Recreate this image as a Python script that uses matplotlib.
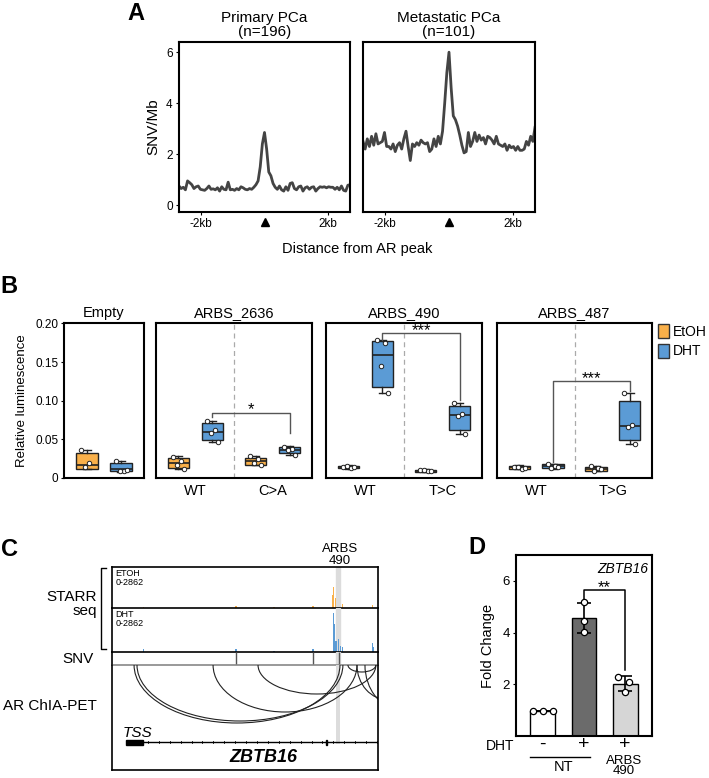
import numpy as np
import matplotlib
matplotlib.use('Agg')
import matplotlib.pyplot as plt
from matplotlib.patches import Arc, Rectangle, Patch

plt.rcParams['font.family'] = ['Liberation Sans', 'DejaVu Sans']

W, H = 709, 778

# ---------- data ----------
# A: SNV density around AR peaks (kb from peak)
a_kb = np.linspace(-2.7, 2.7, 81)
primary_snv = [0.75,0.65,0.7,0.6,0.95,0.88,0.8,0.65,0.72,0.75,0.62,0.6,0.58,0.65,0.75,0.62,
               0.64,0.6,0.68,0.55,0.72,0.62,0.6,0.9,0.6,0.62,0.58,0.65,0.6,0.72,0.68,
               0.62,0.6,0.65,0.62,0.7,0.8,
               0.95,1.5,2.4,2.85,2.2,1.3,1.15,0.85,
               0.7,0.62,0.75,0.6,0.55,0.72,0.58,0.85,0.88,0.65,0.6,0.72,0.75,0.55,0.68,0.72,
               0.62,0.7,0.72,0.55,0.65,0.72,0.7,0.72,0.68,0.72,0.7,0.7,0.62,0.7,0.6,0.75,
               0.58,0.55,0.78,0.8]
metastatic_snv = [2.5,2.2,2.6,2.3,2.7,2.35,2.8,2.4,2.45,2.5,2.85,2.3,2.3,2.2,2.4,2.1,2.35,
                  2.45,2.2,2.6,2.9,2.3,1.75,2.4,2.3,2.45,2.35,2.55,2.45,2.4,2.45,2.1,2.2,2.6,2.3,
                  2.7,2.4,2.9,4.0,5.2,6.0,4.6,3.5,3.35,3.1,2.75,2.35,2.05,2.1,
                  2.85,2.3,2.5,2.85,2.5,2.75,2.55,2.65,2.4,2.7,2.65,2.55,2.4,2.7,2.4,2.35,2.3,
                  2.4,2.15,2.35,2.25,2.3,2.15,2.3,2.15,2.15,2.2,2.5,2.35,2.7,2.5,3.05]
a_titles = ['Primary PCa\n(n=196)', 'Metastatic PCa\n(n=101)']

# B: luciferase reporter, box stats (q1, median, q3, whisker low, whisker high)
b_titles = ['Empty', 'ARBS_2636', 'ARBS_490', 'ARBS_487']
b_alleles = [[''], ['WT', 'C>A'], ['WT', 'T>C'], ['WT', 'T>G']]
etoh_stats = [
    [(0.0121, 0.0174, 0.0317, 0.0113, 0.036)],
    [(0.0134, 0.0195, 0.026, 0.0113, 0.028), (0.0174, 0.022, 0.0265, 0.0165, 0.0286)],
    [(0.013, 0.0143, 0.016, 0.012, 0.0165), (0.0082, 0.0095, 0.0108, 0.0078, 0.011)],
    [(0.0113, 0.0139, 0.016, 0.011, 0.0162), (0.0091, 0.012, 0.0143, 0.0085, 0.015)],
]
dht_stats = [
    [(0.0091, 0.012, 0.0195, 0.0078, 0.0217)],
    [(0.049, 0.060, 0.0707, 0.046, 0.074), (0.0317, 0.0356, 0.040, 0.0295, 0.041)],
    [(0.1176, 0.159, 0.177, 0.110, 0.178), (0.062, 0.0816, 0.0937, 0.0564, 0.0976)],
    [(0.0125, 0.0152, 0.018, 0.0113, 0.0187), (0.049, 0.0677, 0.099, 0.0434, 0.110)],
]
etoh_pts = [
    [[0.036, 0.020, 0.0143]],
    [[0.027, 0.0217, 0.0165, 0.012], [0.0286, 0.024, 0.0195, 0.0165]],
    [[0.0143, 0.0135, 0.0150, 0.0140], [0.0100, 0.0088, 0.0105, 0.0092]],
    [[0.0139, 0.012, 0.0145, 0.0135], [0.015, 0.013, 0.009, 0.012]],
]
dht_pts = [
    [[0.0217, 0.0087, 0.0095, 0.010]],
    [[0.074, 0.062, 0.0577, 0.046], [0.040, 0.037, 0.036, 0.0295]],
    [[0.178, 0.175, 0.1445, 0.110], [0.0976, 0.083, 0.0807, 0.0564]],
    [[0.0187, 0.016, 0.013, 0.0145], [0.110, 0.069, 0.0655, 0.0434]],
]
# (panel, y top, y left end, y right end, label) WT-DHT vs mutant-DHT
b_sig = [(1, 0.0846, 0.079, 0.058, '*'), (2, 0.187, 0.179, 0.101, '***'), (3, 0.125, 0.021, 0.113, '***')]

# C: genome browser tracks, positions in locus units (0-100)
etoh_pos = [11.7, 46.6, 60.9, 75.6, 82.9, 83.4, 83.9, 86.8, 97.9]
etoh_sig = [70, 140, 70, 160, 900, 1466, 700, 280, 210]
dht_pos = [11.7, 46.6, 60.9, 75.6, 83.2, 83.7, 84.2, 85.3, 85.8, 86.8, 97.8, 98.3]
dht_sig = [200, 200, 60, 200, 2540, 1800, 700, 850, 400, 330, 585, 300]
snv_pos = [46.6, 75.6, 85.3]
arbs490_pos = 85.0
chia_loops = [(8.3, 85.7, 58), (9.4, 86.8, 56), (38.0, 92.1, 47), (54.9, 99.2, 29),
              (88.7, 99.2, 7), (92.1, 115.8, 35), (95.1, 123.0, 45)]

# D: qPCR fold change
d_labels = ['-', '+', '+']
d_points = [[0.96, 0.96, 0.96], [5.19, 4.46, 4.04], [2.28, 2.09, 1.70]]
d_colors = ['white', '#6b6b6b', '#d6d6d6']
d_sig = (5.64, 5.2, 2.55)

orange = '#f9b04a'
blue = '#5b9bd5'


fig = plt.figure(figsize=(W/100, H/100), dpi=100)

def px_axes(x0, y0, x1, y1):
    return fig.add_axes([x0/W, 1-y1/H, (x1-x0)/W, (y1-y0)/H])

# overlay for free text in pixel coordinates
ov = fig.add_axes([0, 0, 1, 1], zorder=10)
ov.set_xlim(0, W)
ov.set_ylim(H, 0)
ov.axis('off')

# ---------- A ----------
for i, (rect, vals) in enumerate(zip([(179, 42, 350, 212), (363, 42, 535, 212)],
                                     [primary_snv, metastatic_snv])):
    ax = px_axes(*rect)
    ax.plot(a_kb, vals, color='#444444', lw=2)
    ax.set_xlim(-2.7, 2.7)
    ax.set_ylim(-0.27, 6.4)
    ax.set_xticks([-2, 2])
    ax.set_xticklabels(['-2kb', '2kb'], fontsize=8.5)
    ax.plot([0], [-0.06], marker='^', color='black', ms=6,
            transform=ax.get_xaxis_transform(), clip_on=False)
    for s in ax.spines.values():
        s.set_linewidth(1.5)
    ax.tick_params(length=2.5, pad=2)
    if i == 0:
        ax.set_yticks([0, 2, 4, 6])
        ax.set_yticklabels(['0', '2', '4', '6'], fontsize=8.5)
        ax.set_ylabel('SNV/Mb', fontsize=11, labelpad=4)
    else:
        ax.set_yticks([])
    ax.set_title(a_titles[i], fontsize=11, pad=4, linespacing=1.0)
ov.text(357, 249, 'Distance from AR peak', fontsize=10.5, ha='center', va='center')

# ---------- B ----------
b_rects = [(64, 323, 144, 478), (156, 323, 312, 478), (326, 323, 482, 478), (497, 323, 652, 478)]
jit = [-0.07, 0.03, -0.02, 0.07]
for p, rect in enumerate(b_rects):
    ax = px_axes(*rect)
    n = len(b_alleles[p])
    ax.set_xlim(0.5 - 0.01, n + 0.5 + 0.01)
    ax.set_ylim(0, 0.2005)
    for k in range(n):
        for stats, pts, off, col in [(etoh_stats[p][k], etoh_pts[p][k], -0.22, orange),
                                     (dht_stats[p][k], dht_pts[p][k], 0.22, blue)]:
            q1, med, q3, lo, hi = stats
            x = k + 1 + off
            ax.bxp([dict(med=med, q1=q1, q3=q3, whislo=lo, whishi=hi, fliers=[])],
                   positions=[x], widths=0.28, patch_artist=True, showfliers=False,
                   boxprops=dict(facecolor=col, edgecolor='#222222', lw=1),
                   medianprops=dict(color='#222222', lw=1.2),
                   whiskerprops=dict(color='#222222', lw=1),
                   capprops=dict(color='#222222', lw=1), capwidths=0.1)
            ax.plot([x + jit[j] for j in range(len(pts))], pts, 'o', ms=3.2,
                    mfc='white', mec='#222222', mew=0.7, zorder=5)
    if n == 2:
        ax.axvline(1.5, color='#aaaaaa', ls=(0, (4, 3)), lw=0.9)
        ax.set_xticks([1, 2])
        ax.set_xticklabels(b_alleles[p], fontsize=10.5)
        ax.tick_params(axis='x', length=0, pad=4)
    else:
        ax.set_xticks([])
    if p == 0:
        ax.set_yticks([0, 0.05, 0.10, 0.15, 0.20])
        ax.set_yticklabels(['0', '0.05', '0.10', '0.15', '0.20'], fontsize=8.5)
        ax.tick_params(axis='y', length=2.5, pad=1.5)
        ax.set_ylabel('Relative luminescence', fontsize=9.5, labelpad=5)
    else:
        ax.set_yticks([])
    for s in ax.spines.values():
        s.set_linewidth(1.5)
    ax.set_title(b_titles[p], fontsize=10.5, pad=4)
    for sp, ytop, yl, yr, lab in b_sig:
        if sp == p:
            ax.plot([1.22, 1.22, 2.22, 2.22], [yl, ytop, ytop, yr], color='#555555', lw=1)
            ax.text(1.72, ytop - 0.0025, lab, ha='center', va='baseline', fontsize=12)
    if p == 3:
        hs = [Patch(facecolor=orange, edgecolor='#333333', lw=1),
              Patch(facecolor=blue, edgecolor='#333333', lw=1)]
        ax.legend(hs, ['EtOH', 'DHT'], loc='upper left', bbox_to_anchor=(1.0, 1.03),
                  frameon=False, handlelength=0.85, handleheight=1.2, handletextpad=0.25,
                  labelspacing=0.35, fontsize=10, borderaxespad=0.2, borderpad=0.2)

# ---------- C ----------
ax_e = px_axes(112, 567, 378, 608)
ax_d = px_axes(112, 608, 378, 652)
ax_s = px_axes(112, 652, 378, 665)
ax_c = px_axes(112, 665, 378, 770)
for ax in [ax_e, ax_d, ax_s, ax_c]:
    ax.set_xlim(0, 100)
    ax.set_xticks([])
    ax.set_yticks([])
    ax.patch.set_alpha(0)
    for s in ax.spines.values():
        s.set_linewidth(1.2)
    if ax is not ax_c:
        ax.axvspan(arbs490_pos - 0.75, arbs490_pos + 0.75, color='#dcdcdc', zorder=0)
ax_e.set_ylim(0, 2862)
ax_d.set_ylim(0, 2862)
ax_e.bar(etoh_pos, etoh_sig, width=0.45, color=orange, zorder=2)
ax_d.bar(dht_pos, dht_sig, width=0.45, color=blue, zorder=2)
ax_e.text(0.012, 0.96, 'ETOH\n0-2862', transform=ax_e.transAxes, fontsize=6.5, va='top',
          linespacing=1.0)
ax_d.text(0.012, 0.96, 'DHT\n0-2862', transform=ax_d.transAxes, fontsize=6.5, va='top',
          linespacing=1.0)
ax_d.spines['top'].set_visible(False)
ax_s.set_ylim(0, 1)
ax_s.spines['top'].set_visible(False)
ax_s.spines['bottom'].set_color('#888888')
ax_s.vlines(snv_pos, 0, 1, color='#555555', lw=1)
ax_c.spines['top'].set_visible(False)
ax_c.set_ylim(105, 0)
ax_c.fill_between([arbs490_pos - 0.75, arbs490_pos + 0.75], 0, 79, color='#dcdcdc', zorder=0,
                  lw=0)
for a, b, depth in chia_loops:
    ax_c.add_patch(Arc(((a + b) / 2, 0), b - a, 2 * depth, theta1=0, theta2=180,
                       color='#222222', lw=0.8))
ax_c.add_patch(Rectangle((5.3, 75), 6.4, 4.5, color='black'))
ax_c.plot([11.7, 100], [77, 77], color='black', lw=1)
for t in np.arange(13.5, 100, 4.1):
    ax_c.plot([t, t], [75.8, 78.2], color='black', lw=0.6)
ax_c.add_patch(Rectangle((80.4, 74.5), 0.35, 5, color='black'))
ax_c.text(9.5, 68, 'TSS', fontsize=11, style='italic', ha='center', va='center')
ax_c.text(57, 93, 'ZBTB16', fontsize=13, style='italic', weight='bold', ha='center',
          va='center')

ov.plot([106, 101, 101, 106], [568, 568, 649, 649], color='black', lw=1)
ov.text(97, 604, 'STARR\nseq', fontsize=11, ha='right', va='center', linespacing=0.95)
ov.text(94, 659, 'SNV', fontsize=11, ha='right', va='center')
ov.text(97, 706, 'AR ChIA-PET', fontsize=11, ha='right', va='center')
ov.text(340, 555, 'ARBS\n490', fontsize=9.5, ha='center', va='center', linespacing=0.95)

# ---------- D ----------
ax = px_axes(516, 555, 652, 736)
d_x = np.arange(1, len(d_points) + 1)
d_mean = [np.mean(p) for p in d_points]
d_sd = [np.std(p, ddof=1) for p in d_points]
ax.bar(d_x, d_mean, width=0.6, color=d_colors, edgecolor='black', lw=1, zorder=1)
ax.errorbar(d_x, d_mean, yerr=d_sd, fmt='none', ecolor='black', capsize=5, elinewidth=1.2,
            capthick=1.2, zorder=2)
d_off = [[-0.24, 0.0, 0.24], [0.0, 0.0, 0.0], [-0.17, 0.1, 0.0]]
for i, pts in enumerate(d_points):
    ax.plot([d_x[i] + o for o in d_off[i]], pts, 'o', ms=4.5, mfc='white', mec='black',
            mew=0.9, zorder=3)
ax.plot([2, 2, 3, 3], [d_sig[1], d_sig[0], d_sig[0], d_sig[2]], color='black', lw=1.1)
ax.text(2.5, d_sig[0] - 0.08, '**', ha='center', va='baseline', fontsize=12)
ax.set_xlim(0.35, 3.65)
ax.set_ylim(0, 7.0)
ax.set_yticks([2, 4, 6])
ax.set_yticklabels(['2', '4', '6'], fontsize=9.5)
ax.set_xticks(d_x)
ax.set_xticklabels(d_labels, fontsize=14)
ax.tick_params(axis='x', length=0, pad=0)
ax.tick_params(axis='y', length=2.5, pad=2)
ax.set_ylabel('Fold Change', fontsize=10.5, labelpad=5)
ax.text(0.97, 0.96, 'ZBTB16', transform=ax.transAxes, fontsize=10, style='italic',
        ha='right', va='top')
for s in ax.spines.values():
    s.set_linewidth(1.5)
ov.text(500, 746, 'DHT', fontsize=10, ha='center', va='center')
ov.plot([530, 590], [757, 757], color='black', lw=1)
ov.text(564, 767, 'NT', fontsize=10.5, ha='center', va='center')
ov.text(624, 766, 'ARBS\n490', fontsize=9.5, ha='center', va='center', linespacing=0.8)

# panel letters
for lab, x, y in [('A', 136, 13), ('B', 9, 286), ('C', 9, 549), ('D', 477, 548)]:
    ov.text(x, y, lab, fontsize=17, weight='bold', ha='center', va='center')

fig.savefig('out.png', dpi=100)
